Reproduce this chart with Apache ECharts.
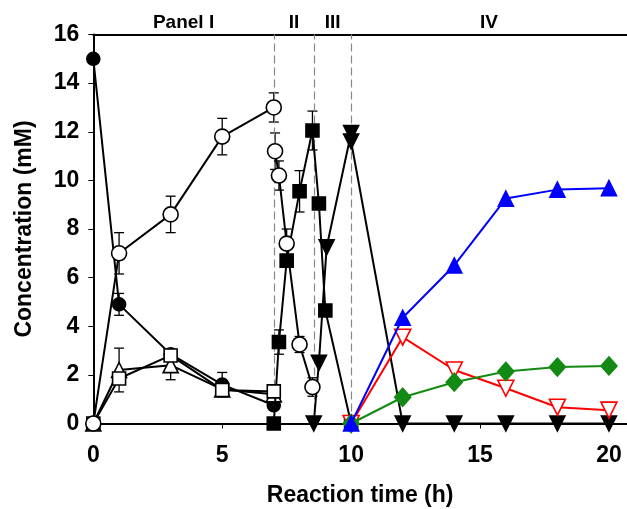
<!DOCTYPE html>
<html>
<head>
<meta charset="utf-8">
<script src="https://cdn.jsdelivr.net/npm/echarts@6/dist/echarts.min.js"></script>
<style>
  html, body { margin: 0; padding: 0; background: #fff; }
  #chart { width: 627px; height: 509px; }
</style>
</head>
<body>
<div id="chart"></div>
<script>
// Panel I
const panelI_t = [0, 1, 3, 5, 7];
const filledCircle = [15.0, 4.9, 2.85, 1.6, 0.75];
const filledCircleErr = [0, 0.45, 0, 0.5, 0];
const openCircleI = [0, 7.0, 8.6, 11.8, 13.0];
const openCircleIErr = [0, 0.85, 0.75, 0.75, 0.6];
const openTriangle = [0, 2.2, 2.4, 1.4, 1.2];
const openTriangleErr = [0, 0.9, 0.6, 0, 0];
const openSquare = [0, 1.85, 2.8, 1.38, 1.32];

// Panel II
const panelII_t = [7.05, 7.2, 7.5, 8.0, 8.5];
const openCircleII = [11.2, 10.2, 7.4, 3.25, 1.5];
const openCircleIIErr = [0.75, 0.6, 0.6, 0.33, 0.38];

const square_t = [7.0, 7.2, 7.5, 8.0, 8.5, 8.75, 9.0, 10];
const filledSquare = [0, 3.35, 6.7, 9.55, 12.05, 9.05, 4.65, 0];
const filledSquareErr = [0, 0.5, 0, 0.85, 0.8, 0, 0, 0];

// Panel III
const panelIII_t = [8.55, 8.75, 9.05, 10];
const filledTriIII = [0, 2.5, 7.25, 11.95];

// Panel IV
const panelIV_t = [10, 12, 14, 16, 18, 20];
const filledTriIV = [11.6, 0, 0, 0, 0, 0];
const blueTri = [0, 4.35, 6.5, 9.25, 9.62, 9.68];
const redTri = [0, 3.55, 2.2, 1.45, 0.67, 0.55];
const greenDia = [0, 1.08, 1.7, 2.14, 2.32, 2.37];

const panelBreaks = [7, 8.57, 10];
const panelNames = ['Panel I', 'II', 'III', 'IV'];
const xMax = 20.7;

const FONT = 'Liberation Sans, Arial, sans-serif';

const pairs = (xs, ys) => xs.map((x, i) => [x, ys[i]]);

const errData = [];
const addErr = (xs, ys, es) => {
  xs.forEach((x, i) => {
    if (es[i] > 0) errData.push([x, ys[i], es[i]]);
  });
};
addErr(panelI_t, filledCircle, filledCircleErr);
addErr(panelI_t, openCircleI, openCircleIErr);
addErr(panelI_t, openTriangle, openTriangleErr);
addErr(panelII_t, openCircleII, openCircleIIErr);
addErr(square_t, filledSquare, filledSquareErr);

const lineSeries = (name, xs, ys, opts) => ({
  name,
  type: 'line',
  data: pairs(xs, ys),
  symbol: opts.symbol,
  symbolSize: opts.size,
  symbolRotate: opts.rotate || 0,
  lineStyle: { color: opts.color || '#000', width: opts.width || 2 },
  itemStyle: {
    color: opts.fill,
    borderColor: opts.border || opts.color || '#000',
    borderWidth: opts.borderWidth || 1.6,
  },
  z: opts.z || 3,
  animation: false,
});

const bounds = [0, ...panelBreaks, xMax];
const areas = panelNames.map((n, i) => [
  { xAxis: bounds[i], name: n },
  { xAxis: bounds[i + 1] },
]);

const chart = echarts.init(document.getElementById('chart'));

const option = {
  animation: false,
  grid: { left: 93.3, right: 0, top: 34.5, bottom: 85.5, containLabel: false, outerBoundsMode: 'none' },
  xAxis: [
    {
      type: 'value',
      min: 0,
      max: xMax,
      interval: 5,
      name: 'Reaction time (h)',
      nameLocation: 'middle',
      nameGap: 61,
      nameTextStyle: { fontFamily: FONT, fontWeight: 'bold', fontSize: 23, color: '#000' },
      axisLine: { lineStyle: { color: '#000', width: 2 } },
      axisTick: { length: 5, lineStyle: { color: '#000', width: 1 } },
      axisLabel: {
        fontFamily: FONT, fontWeight: 'bold', fontSize: 23, color: '#000',
        margin: 21, showMaxLabel: false,
      },
      splitLine: { show: false },
    },
    {
      type: 'value',
      position: 'top',
      min: 0,
      max: xMax,
      axisLine: { show: true, lineStyle: { color: '#000', width: 2 } },
      axisTick: { show: false },
      axisLabel: { show: false },
      splitLine: { show: false },
    },
  ],
  yAxis: {
    type: 'value',
    min: 0,
    max: 16,
    interval: 2,
    name: 'Concentration (mM)',
    nameLocation: 'middle',
    nameGap: 57,
    nameTextStyle: { fontFamily: FONT, fontWeight: 'bold', fontSize: 23, color: '#000' },
    axisLine: { show: true, lineStyle: { color: '#000', width: 2 } },
    axisTick: { show: true, length: 5, lineStyle: { color: '#000', width: 1 } },
    axisLabel: { fontFamily: FONT, fontWeight: 'bold', fontSize: 23, color: '#000', margin: 14 },
    splitLine: { show: false },
  },
  series: [
    {
      type: 'custom',
      name: 'err',
      data: errData,
      z: 1,
      renderItem: (params, api) => {
        const x = api.value(0), y = api.value(1), e = api.value(2);
        const top = api.coord([x, y + e]);
        const bot = api.coord([x, y - e]);
        const w = 5;
        const style = { stroke: '#000', lineWidth: 1.3 };
        return {
          type: 'group',
          children: [
            { type: 'line', shape: { x1: top[0], y1: top[1], x2: bot[0], y2: bot[1] }, style },
            { type: 'line', shape: { x1: top[0] - w, y1: top[1], x2: top[0] + w, y2: top[1] }, style },
            { type: 'line', shape: { x1: bot[0] - w, y1: bot[1], x2: bot[0] + w, y2: bot[1] }, style },
          ],
        };
      },
      markLine: {
        silent: true,
        symbol: 'none',
        label: { show: false },
        lineStyle: { color: '#888', type: [8, 4], width: 1.2 },
        data: panelBreaks.map(v => ({ xAxis: v })),
      },
      markArea: {
        silent: true,
        itemStyle: { color: 'rgba(0,0,0,0)' },
        label: {
          show: true, position: 'top', distance: 2,
          fontFamily: FONT, fontWeight: 'bold', fontSize: 19, color: '#000',
        },
        data: areas,
      },
    },
    lineSeries('filledCircle', panelI_t, filledCircle, { symbol: 'circle', size: 13, fill: '#000', z: 3 }),
    lineSeries('openTriangle', panelI_t, openTriangle, { symbol: 'triangle', size: 15, fill: '#fff', z: 4 }),
    lineSeries('openSquare', panelI_t, openSquare, { symbol: 'rect', size: 13, fill: '#fff', z: 5 }),
    lineSeries('openCircleI', panelI_t, openCircleI, { symbol: 'circle', size: 15, fill: '#fff', z: 6 }),
    lineSeries('openCircleII', panelII_t, openCircleII, { symbol: 'circle', size: 15, fill: '#fff', z: 6 }),
    lineSeries('filledSquare', square_t, filledSquare, { symbol: 'rect', size: 13, fill: '#000', z: 5 }),
    lineSeries('filledTriIII', panelIII_t, filledTriIII, { symbol: 'triangle', size: 15, rotate: 180, fill: '#000', z: 5 }),
    lineSeries('filledTriIV', panelIV_t, filledTriIV, { symbol: 'triangle', size: 15, rotate: 180, fill: '#000', z: 5 }),
    lineSeries('red', panelIV_t, redTri, { symbol: 'triangle', size: 16, rotate: 180, fill: '#fff', color: '#ff0000', width: 2, z: 7 }),
    lineSeries('green', panelIV_t, greenDia, { symbol: 'diamond', size: [16, 18], fill: '#138a13', color: '#138a13', width: 2, z: 8 }),
    lineSeries('blue', panelIV_t, blueTri, { symbol: 'triangle', size: 15, fill: '#0000ff', color: '#0000ff', width: 2, z: 9 }),
  ],
};

chart.setOption(option);
</script>
</body>
</html>
